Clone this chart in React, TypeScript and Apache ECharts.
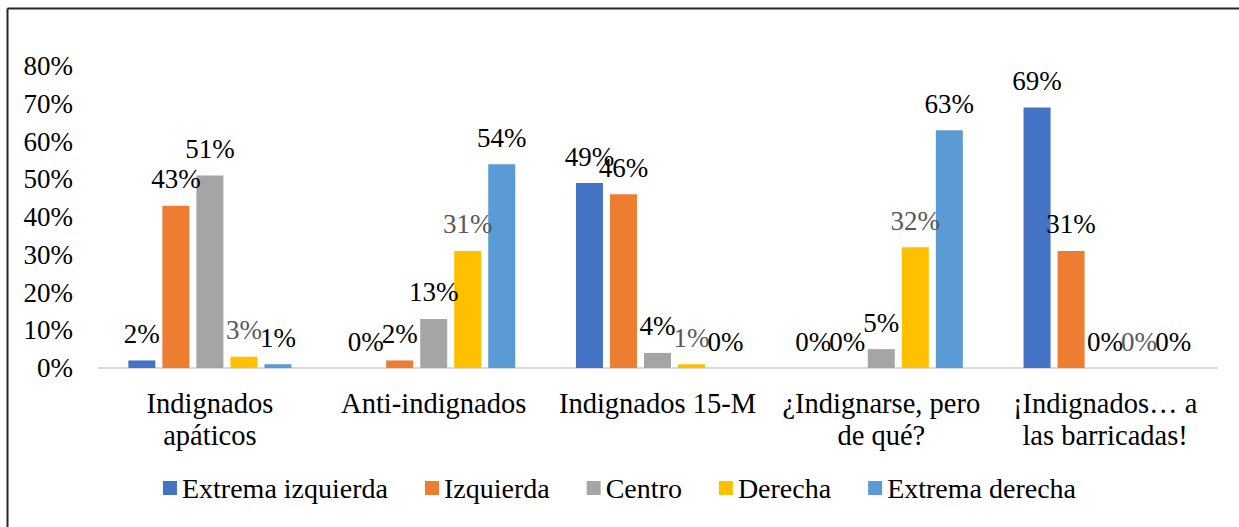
import React, { useEffect, useRef } from "react";
import * as echarts from "echarts";

const categories = [
  "Indignados\napáticos",
  "Anti-indignados",
  "Indignados 15-M",
  "¿Indignarse, pero\nde qué?",
  "¡Indignados… a\nlas barricadas!",
];
const seriesNames = ["Extrema izquierda", "Izquierda", "Centro", "Derecha", "Extrema derecha"];
const extremaIzquierda = [2, 0, 49, 0, 69];
const izquierda = [43, 2, 46, 0, 31];
const centro = [51, 13, 4, 5, 0];
const derecha = [3, 31, 1, 32, 0];
const extremaDerecha = [1, 54, 0, 63, 0];
const colors = ["#4472C4", "#ED7D31", "#A5A5A5", "#FFC000", "#5B9BD5"];
const labelColors = ["#000000", "#000000", "#000000", "#595959", "#000000"];

const FONT = "'Liberation Serif', 'Times New Roman', serif";

export default function App() {
  const ref = useRef<HTMLDivElement>(null);
  useEffect(() => {
    if (!ref.current) return;
    const chart = echarts.init(ref.current, null, { renderer: "svg" });
    const values = [extremaIzquierda, izquierda, centro, derecha, extremaDerecha];
    chart.setOption({
      animation: false,
      backgroundColor: "#ffffff",
      textStyle: { fontFamily: FONT },
      graphic: [
        { type: "line", shape: { x1: 7.5, y1: 8.5, x2: 1239, y2: 8.5 }, style: { stroke: "#262626", lineWidth: 2 } },
        { type: "line", shape: { x1: 7.5, y1: 8.5, x2: 7.5, y2: 527 }, style: { stroke: "#262626", lineWidth: 2 } },
      ],
      grid: { left: 98, right: 22, top: 66, bottom: 159 },
      legend: {
        data: seriesNames,
        top: 469,
        left: "center",
        itemWidth: 14,
        itemHeight: 14,
        itemGap: 37,
        icon: "rect",
        textStyle: { fontFamily: FONT, fontSize: 28, color: "#000", lineHeight: 28 },
      },
      xAxis: {
        type: "category",
        data: categories,
        axisLine: { lineStyle: { color: "#D9D9D9", width: 2 } },
        axisTick: { show: false },
        axisLabel: { fontFamily: FONT, fontSize: 28.5, color: "#000", lineHeight: 32, margin: 19, interval: 0 },
      },
      yAxis: {
        type: "value",
        min: 0,
        max: 80,
        interval: 10,
        splitLine: { show: false },
        axisLine: { show: false },
        axisTick: { show: false },
        axisLabel: { fontFamily: FONT, fontSize: 27, color: "#000", formatter: "{value}%", margin: 25 },
      },
      series: seriesNames.map((name, i) => ({
        name,
        type: "bar",
        data: values[i],
        barWidth: 27,
        barGap: "26%",
        itemStyle: { color: colors[i] },
        label: {
          show: true,
          position: "top",
          distance: 13,
          formatter: "{c}%",
          fontFamily: FONT,
          fontSize: 27,
          color: labelColors[i],
        },
      })),
    });
    return () => chart.dispose();
  }, []);
  return (
    <div
      ref={ref}
      style={{ position: "fixed", left: 0, top: 0, width: 1239, height: 527, background: "#fff" }}
    />
  );
}
